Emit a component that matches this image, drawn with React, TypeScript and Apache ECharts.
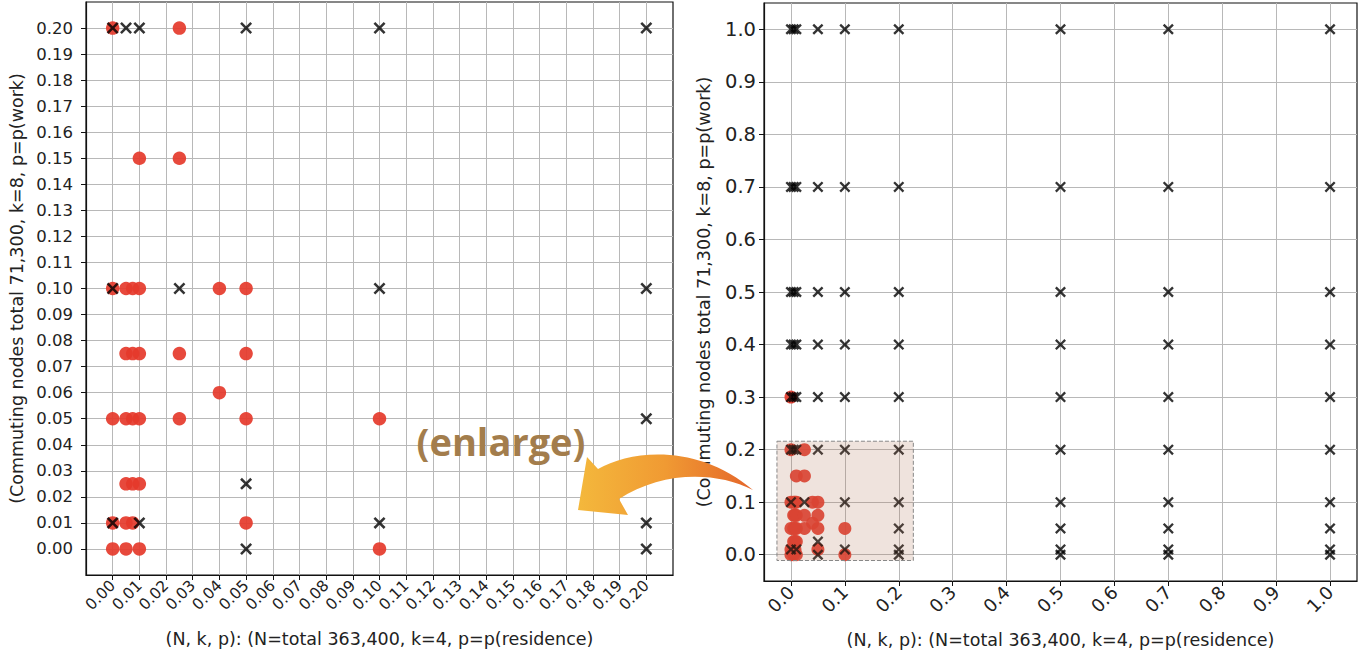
import React, { useEffect, useRef } from "react";
import * as echarts from "echarts";

// Red circles: [p(residence), p(work)]
const redPoints: [number, number][] = [
  [0.0, 0.3],
  [0.0, 0.2], [0.025, 0.2],
  [0.01, 0.15], [0.025, 0.15],
  [0.0, 0.1], [0.005, 0.1], [0.0075, 0.1], [0.01, 0.1], [0.04, 0.1], [0.05, 0.1],
  [0.005, 0.075], [0.0075, 0.075], [0.01, 0.075], [0.025, 0.075], [0.05, 0.075],
  [0.04, 0.06],
  [0.0, 0.05], [0.005, 0.05], [0.0075, 0.05], [0.01, 0.05], [0.025, 0.05], [0.05, 0.05], [0.1, 0.05],
  [0.005, 0.025], [0.0075, 0.025], [0.01, 0.025],
  [0.0, 0.01], [0.005, 0.01], [0.0075, 0.01], [0.05, 0.01],
  [0.0, 0.0], [0.005, 0.0], [0.01, 0.0], [0.1, 0.0],
];

// Black crosses: [p(residence), p(work)]
const crossPoints: [number, number][] = [
  [0.0, 1.0], [0.005, 1.0], [0.01, 1.0], [0.05, 1.0], [0.1, 1.0], [0.2, 1.0], [0.5, 1.0], [0.7, 1.0], [1.0, 1.0],
  [0.0, 0.7], [0.005, 0.7], [0.01, 0.7], [0.05, 0.7], [0.1, 0.7], [0.2, 0.7], [0.5, 0.7], [0.7, 0.7], [1.0, 0.7],
  [0.0, 0.5], [0.005, 0.5], [0.01, 0.5], [0.05, 0.5], [0.1, 0.5], [0.2, 0.5], [0.5, 0.5], [0.7, 0.5], [1.0, 0.5],
  [0.0, 0.4], [0.005, 0.4], [0.01, 0.4], [0.05, 0.4], [0.1, 0.4], [0.2, 0.4], [0.5, 0.4], [0.7, 0.4], [1.0, 0.4],
  [0.0, 0.3], [0.005, 0.3], [0.01, 0.3], [0.05, 0.3], [0.1, 0.3], [0.2, 0.3], [0.5, 0.3], [0.7, 0.3], [1.0, 0.3],
  [0.0, 0.2], [0.005, 0.2], [0.01, 0.2], [0.05, 0.2], [0.1, 0.2], [0.2, 0.2], [0.5, 0.2], [0.7, 0.2], [1.0, 0.2],
  [0.0, 0.1], [0.025, 0.1], [0.1, 0.1], [0.2, 0.1], [0.5, 0.1], [0.7, 0.1], [1.0, 0.1],
  [0.2, 0.05], [0.5, 0.05], [0.7, 0.05], [1.0, 0.05],
  [0.05, 0.025],
  [0.0, 0.01], [0.01, 0.01], [0.1, 0.01], [0.2, 0.01], [0.5, 0.01], [0.7, 0.01], [1.0, 0.01],
  [0.05, 0.0], [0.2, 0.0], [0.5, 0.0], [0.7, 0.0], [1.0, 0.0],
];

const leftTicks = [0.0, 0.01, 0.02, 0.03, 0.04, 0.05, 0.06, 0.07, 0.08, 0.09, 0.1,
  0.11, 0.12, 0.13, 0.14, 0.15, 0.16, 0.17, 0.18, 0.19, 0.2];
const rightTicks = [0.0, 0.1, 0.2, 0.3, 0.4, 0.5, 0.6, 0.7, 0.8, 0.9, 1.0];

const leftRange: [number, number] = [-0.01, 0.21];
const rightRange: [number, number] = [-0.05, 1.05];

// Enlarged region shown on the right chart: [[x0, y0], [x1, y1]]
const enlargeRegion: [number, number][] = [[-0.026, -0.011], [0.227, 0.216]];

const xName = "(N, k, p): (N=total 363,400, k=4, p=p(residence)";
const yName = "(Commuting nodes total 71,300, k=8, p=p(work)";

const FONT = "DejaVu Sans";
const RED = "#e5392b";
const CROSS = "path://M1.5,0 L5,3.5 L8.5,0 L10,1.5 L6.5,5 L10,8.5 L8.5,10 L5,6.5 L1.5,10 L0,8.5 L3.5,5 L0,1.5 Z";

const arrowPath =
  "M578 510 L587 457 L598 469 C632 449 700 444 753 490 C714 470 660 472 619 499 L628 515 Z";

function axis(ticks: number[], range: [number, number], decimals: number, fontSize: number, rotate: number, name: string, nameGap: number, margin: number, nameRotate?: number) {
  return {
    type: "value",
    min: range[0],
    max: range[1],
    name,
    nameLocation: "middle",
    nameGap,
    nameRotate,
    nameTextStyle: { fontFamily: FONT, fontSize: 17.5, color: "#222" },
    axisLine: { show: true, onZero: false, lineStyle: { color: "#111", width: 1.2 } },
    axisTick: { show: true, customValues: ticks, length: 5, lineStyle: { color: "#111", width: 1 } },
    axisLabel: {
      customValues: ticks,
      formatter: (v: number) => Number(v).toFixed(decimals),
      fontFamily: FONT,
      fontSize,
      color: "#222",
      rotate,
      margin,
    },
    splitLine: { show: true, lineStyle: { color: "#b8b8b8", width: 1 } },
  };
}

export default function App() {
  const ref = useRef<HTMLDivElement>(null);
  useEffect(() => {
    if (!ref.current) return;
    try {
      echarts.graphic.registerShape("enlargeArrow", echarts.graphic.extendPath(arrowPath, {}) as any);
    } catch (e) {}
    const chart = echarts.init(ref.current, null, { renderer: "svg" });
    const inLeft = (p: [number, number]) => p[0] <= 0.2 + 1e-9 && p[1] <= 0.2 + 1e-9;
    const option: any = {
      animation: false,
      backgroundColor: "#fff",
      grid: [
        { left: 86, top: 2, width: 587, height: 573, show: true, borderColor: "#111", borderWidth: 1.2, backgroundColor: "transparent" },
        { left: 764, top: 3, width: 593, height: 578, show: true, borderColor: "#111", borderWidth: 1.2, backgroundColor: "transparent" },
      ],
      xAxis: [
        { ...axis(leftTicks, leftRange, 2, 15.5, 45, xName, 55, 8), gridIndex: 0 },
        { ...axis(rightTicks, rightRange, 1, 18, 45, xName, 50, 8), gridIndex: 1 },
      ],
      yAxis: [
        { ...axis(leftTicks, leftRange, 2, 16.5, 0, yName, 60, 13, 90), gridIndex: 0 },
        { ...axis(rightTicks, rightRange, 1, 19.5, 0, yName, 51, 8, 90), gridIndex: 1 },
      ],
      series: [
        {
          type: "scatter", xAxisIndex: 0, yAxisIndex: 0, z: 2,
          data: redPoints.filter(inLeft), symbol: "circle", symbolSize: 13.5,
          itemStyle: { color: RED, opacity: 0.92 },
        },
        {
          type: "scatter", xAxisIndex: 0, yAxisIndex: 0, z: 3,
          data: crossPoints.filter(inLeft), symbol: CROSS, symbolSize: 12,
          itemStyle: { color: "#000" },
        },
        {
          type: "scatter", xAxisIndex: 1, yAxisIndex: 1, z: 2,
          data: redPoints, symbol: "circle", symbolSize: 13,
          itemStyle: { color: RED, opacity: 0.92 },
        },
        {
          type: "scatter", xAxisIndex: 1, yAxisIndex: 1, z: 3,
          data: crossPoints, symbol: CROSS, symbolSize: 11,
          itemStyle: { color: "#000" },
        },
        {
          type: "scatter", xAxisIndex: 1, yAxisIndex: 1, z: 10, data: [],
          markArea: {
            silent: true,
            z: 10,
            itemStyle: { color: "rgba(175,115,85,0.2)", borderColor: "#888", borderWidth: 1, borderType: "dashed" },
            data: [[
              { xAxis: enlargeRegion[0][0], yAxis: enlargeRegion[1][1] },
              { xAxis: enlargeRegion[1][0], yAxis: enlargeRegion[0][1] },
            ]],
          },
        },
      ],
      graphic: [
        {
          type: "enlargeArrow", x: 0, y: 0, z: 100,
          style: {
            fill: new echarts.graphic.LinearGradient(0, 0, 1, 0, [
              { offset: 0, color: "#f4b83c" },
              { offset: 0.5, color: "#f09a33" },
              { offset: 1, color: "#e4652a" },
            ]),
          },
        },
        {
          type: "text", x: 501, y: 441, z: 100,
          style: {
            text: "(enlarge)", fill: "#a37d4c", font: "bold 38px 'Open Sans'",
            textAlign: "center", textVerticalAlign: "middle",
          },
        },
      ],
    };
    chart.setOption(option);
    return () => chart.dispose();
  }, []);
  return (
    <div
      ref={ref}
      style={{ position: "fixed", left: 0, top: 0, width: 1371, height: 665, background: "#fff" }}
    />
  );
}
